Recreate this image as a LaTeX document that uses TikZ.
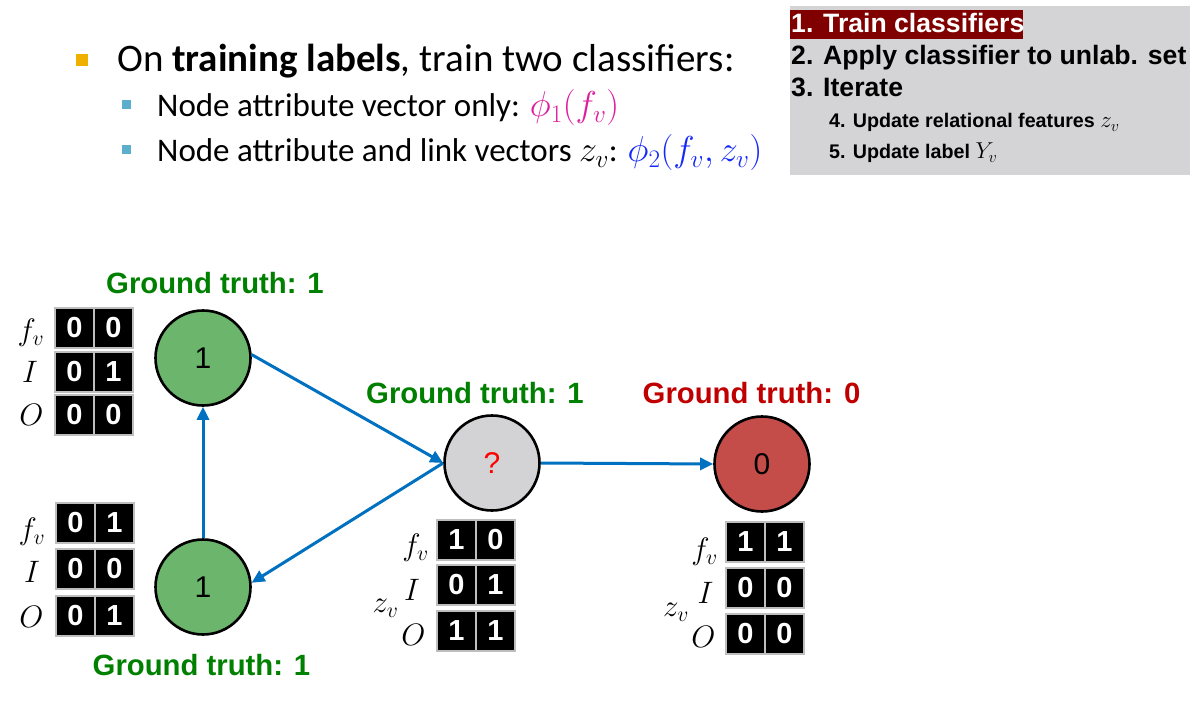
\RequirePackage{fix-cm}
\documentclass[tikz,border=0pt]{standalone}
\usepackage{fontspec}
\setmainfont{Liberation Sans}
\newfontfamily\calfont{Carlito}
\usetikzlibrary{arrows.meta}
\definecolor{boxgray}{RGB}{212,212,214}
\definecolor{hlred}{RGB}{128,0,0}
\definecolor{nodegreen}{RGB}{108,181,108}
\definecolor{nodered}{RGB}{196,77,74}
\definecolor{nodegray}{RGB}{211,211,214}
\definecolor{arrowblue}{RGB}{0,112,192}
\definecolor{gtgreen}{RGB}{0,128,0}
\definecolor{gtred}{RGB}{192,0,0}
\definecolor{bulorange}{RGB}{240,176,0}
\definecolor{bulblue}{RGB}{91,174,204}
\definecolor{phimag}{RGB}{222,30,158}
\definecolor{phiblue}{RGB}{20,40,250}
\definecolor{cellline}{RGB}{190,190,190}
\newcommand\fsz[1]{\fontsize{#1}{#1}\selectfont}
\newcommand\vecrow[5]{%
  \node[cell] (#1a) at ({#2+19.5},{#3+20}) {#4};
  \node[cell] (#1b) at ({#2+58.5},{#3+20}) {#5};}
\begin{document}
\begin{tikzpicture}[x=1pt,y=-1pt,
  cell/.style={draw=cellline,line width=1.2pt,fill=black,text=white,
    minimum width=39pt,minimum height=40pt,inner sep=0pt,
    font=\fsz{29}\bfseries},
  gnode/.style={circle,draw=black,line width=2.6pt,minimum size=95pt,
    inner sep=0pt,font=\fsz{30}},
  gt/.style={anchor=base,font=\fsz{29.3}\bfseries,inner sep=0pt},
  lab/.style={inner sep=0pt,font=\fsz{31}},
  edge/.style={draw=arrowblue,line width=3pt,
    -{Triangle[length=13pt,width=12pt]}},
  steptxt/.style={anchor=base west,inner sep=0pt,font=\fsz{26.6}\bfseries},
  substeptxt/.style={anchor=base west,inner sep=0pt,font=\fsz{19.7}\bfseries},
  bultxt/.style={anchor=base west,inner sep=0pt}]
\useasboundingbox (0,0) rectangle (1190,711);
\fill[white] (0,0) rectangle (1190,711);

% step box
\fill[boxgray] (790,6) rectangle (1190,175);
\fill[hlred] (790,10) rectangle (1023,39);
\node[steptxt,text=white] (s1) at (791,33) {1. Train classifiers};
\node[steptxt] (s2) at (791,65) {2. Apply classifier to unlab. set};
\node[steptxt] (s3) at (791,97) {3. Iterate};
\node[substeptxt] (s4) at (829,128) {4. Update relational features {\fsz{23}$z_v$}};
\node[substeptxt] (s5) at (829,159) {5. Update label {\fsz{23}$Y_v$}};

% bullets
\fill[bulorange] (76,54) rectangle (88,66);
\fill[bulblue] (122,100) rectangle (131,109);
\fill[bulblue] (122,145) rectangle (131,154);
\node[bultxt,font=\calfont\fsz{39}] (b1) at (117,72)
  {On \textbf{training labels}, train two classifiers:};
\node[bultxt,font=\calfont\fsz{33}] (b2) at (157,117)
  {Node attribute vector only: {\fsz{36}\textcolor{phimag}{$\phi_1(f_v)$}}};
\node[bultxt,font=\calfont\fsz{33}] (b3) at (157,162)
  {Node attribute and link vectors {\fsz{36}$z_v$}: {\fsz{36}\textcolor{phiblue}{$\phi_2(f_v,z_v)$}}};

% graph nodes
\node[gnode,fill=nodegreen] (A) at (203,358) {1};
\node[gnode,fill=nodegreen] (B) at (203,587) {1};
\node[gnode,fill=nodegray,text=red] (C) at (492,463) {?};
\node[gnode,fill=nodered] (D) at (762,464) {0};

\node[gt,text=gtgreen] (gA) at (215,293) {Ground truth: 1};
\node[gt,text=gtgreen] (gC) at (475,403) {Ground truth: 1};
\node[gt,text=gtred] (gD) at (751.5,403) {Ground truth: 0};
\node[gt,text=gtgreen] (gB) at (201.5,675) {Ground truth: 1};

% edges
\draw[edge] (A.4) -- (C.west);
\draw[edge] (C.west) -- (B.5);
\draw[edge] (B.north) -- (A.south);
\draw[edge] (C.east) -- (D.west);

% vectors top-left
\vecrow{ta}{55}{308}{0}{0}
\vecrow{tb}{55}{352}{0}{1}
\vecrow{tc}{55}{395}{0}{0}
\node[lab] (tlf) at (31,333) {$f_v$};
\node[lab] (tli) at (30,372) {$I$};
\node[lab] (tlo) at (31.5,415) {$O$};

% vectors bottom-left
\vecrow{ba}{56}{503}{0}{1}
\vecrow{bb}{56}{549}{0}{0}
\vecrow{bc}{56}{596}{0}{1}
\node[lab] (blf) at (32,532) {$f_v$};
\node[lab] (bli) at (32,572) {$I$};
\node[lab] (blo) at (31.5,617) {$O$};

% vectors middle
\vecrow{ma}{437}{520}{1}{0}
\vecrow{mb}{437}{565}{0}{1}
\vecrow{mc}{437}{611}{1}{1}
\node[lab] (mlf) at (415.5,548) {$f_v$};
\node[lab] (mli) at (412,590) {$I$};
\node[lab] (mlo) at (413.5,635) {$O$};
\node[lab] (mlz) at (385.5,608) {$z_v$};

% vectors right
\vecrow{ra}{726}{522}{1}{1}
\vecrow{rb}{726}{568}{0}{0}
\vecrow{rc}{726}{614}{0}{0}
\node[lab] (rlf) at (704.5,552) {$f_v$};
\node[lab] (rli) at (705.5,593) {$I$};
\node[lab] (rlo) at (703.5,637) {$O$};
\node[lab] (rlz) at (676,612) {$z_v$};
\end{tikzpicture}
\end{document}
